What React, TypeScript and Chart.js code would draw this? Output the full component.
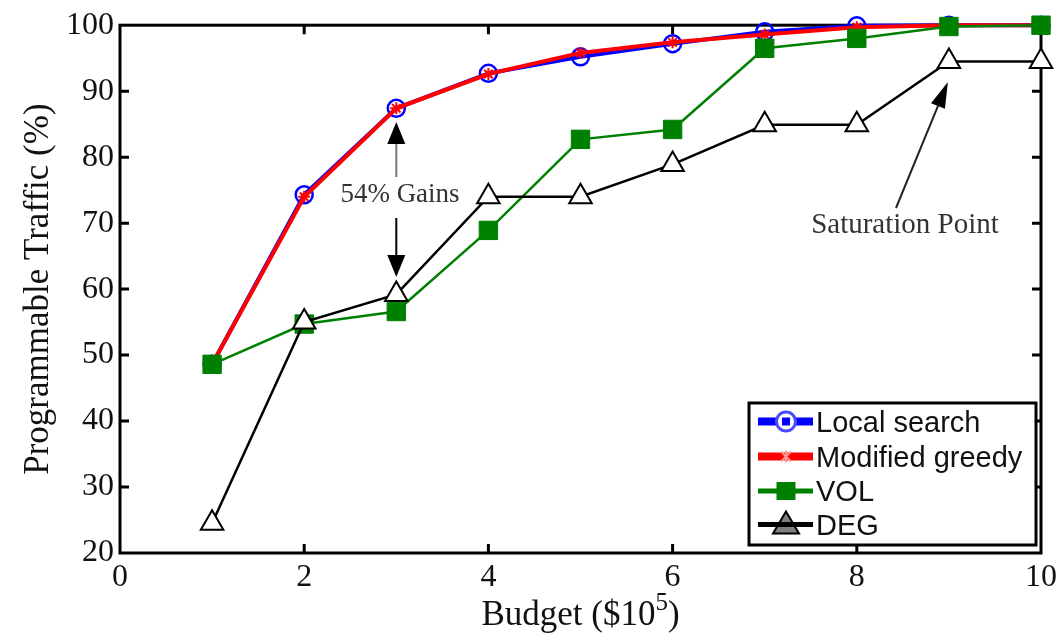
import React, { useEffect, useRef } from 'react';
import { Chart, registerables } from 'chart.js';

Chart.register(...registerables);

// ---- data ----
const budget = [1, 2, 3, 4, 5, 6, 7, 8, 9, 10];
const localSearch = [48.6, 74.3, 87.4, 92.7, 95.2, 97.2, 99.0, 99.9, 100, 100];
const modifiedGreedy = [48.6, 74.0, 87.4, 92.6, 95.8, 97.4, 98.6, 99.7, 100, 100];
const vol = [48.6, 54.7, 56.6, 68.9, 82.7, 84.2, 96.5, 98.0, 99.8, 100];
const deg = [24.5, 55.0, 59.2, 74.0, 74.0, 78.9, 84.9, 84.9, 94.5, 94.5];
const seriesNames = ['Local search', 'Modified greedy', 'VOL', 'DEG'];
const xTicks = [0, 2, 4, 6, 8, 10];
const yTicks = [20, 30, 40, 50, 60, 70, 80, 90, 100];
const xTitleMain = 'Budget ($10';
const xTitleSup = '5';
const xTitleEnd = ')';
const yTitle = 'Programmable Traffic (%)';
const gainsLabel = '54% Gains';
const saturationLabel = 'Saturation Point';

const SERIF = '"Liberation Serif", "Times New Roman", serif';
const SANS = '"Liberation Sans", Arial, sans-serif';

const BLUE = '#0000ff';
const RED = '#ff0000';
const GREEN = '#008000';
const BLACK = '#000000';

const pts = (ys: number[]) => budget.map((x, i) => ({ x, y: ys[i] }));

function drawArrow(ctx: CanvasRenderingContext2D, x1: number, y1: number, x2: number, y2: number, headLen: number, headW: number, shaftColor: string, headColor: string) {
  const ang = Math.atan2(y2 - y1, x2 - x1);
  const bx = x2 - Math.cos(ang) * headLen;
  const by = y2 - Math.sin(ang) * headLen;
  ctx.save();
  ctx.strokeStyle = shaftColor;
  ctx.lineWidth = 2;
  ctx.beginPath();
  ctx.moveTo(x1, y1);
  ctx.lineTo(bx, by);
  ctx.stroke();
  ctx.fillStyle = headColor;
  ctx.beginPath();
  ctx.moveTo(x2, y2);
  ctx.lineTo(bx + Math.sin(ang) * headW / 2, by - Math.cos(ang) * headW / 2);
  ctx.lineTo(bx - Math.sin(ang) * headW / 2, by + Math.cos(ang) * headW / 2);
  ctx.closePath();
  ctx.fill();
  ctx.restore();
}

const framePlugin = {
  id: 'framePlugin',
  beforeDatasetsDraw(chart: any) {
    const { ctx, chartArea: a, scales } = chart;
    const xs = scales.x;
    const ys = scales.y;
    ctx.save();
    ctx.strokeStyle = '#000';
    ctx.lineWidth = 3;
    ctx.strokeRect(a.left, a.top, a.right - a.left, a.bottom - a.top);
    ctx.beginPath();
    xTicks.forEach((v) => {
      if (v <= xTicks[0] || v >= xTicks[xTicks.length - 1]) return;
      const px = xs.getPixelForValue(v);
      ctx.moveTo(px, a.bottom);
      ctx.lineTo(px, a.bottom - 9);
      ctx.moveTo(px, a.top);
      ctx.lineTo(px, a.top + 9);
    });
    yTicks.forEach((v) => {
      if (v <= yTicks[0] || v >= yTicks[yTicks.length - 1]) return;
      const py = ys.getPixelForValue(v);
      ctx.moveTo(a.left, py);
      ctx.lineTo(a.left + 9, py);
      ctx.moveTo(a.right, py);
      ctx.lineTo(a.right - 9, py);
    });
    ctx.stroke();
    ctx.restore();
  },
  afterDraw(chart: any) {
    const { ctx, chartArea: a, scales } = chart;
    const xs = scales.x;
    const ys = scales.y;
    ctx.save();
    // y title
    ctx.fillStyle = '#111';
    ctx.font = `35px ${SERIF}`;
    ctx.textAlign = 'center';
    ctx.textBaseline = 'alphabetic';
    ctx.translate(48, (a.top + a.bottom) / 2);
    ctx.rotate(-Math.PI / 2);
    ctx.fillText(yTitle, 0, 0);
    ctx.restore();

    // x title with superscript
    ctx.save();
    ctx.fillStyle = '#111';
    ctx.textAlign = 'left';
    ctx.textBaseline = 'alphabetic';
    ctx.font = `35px ${SERIF}`;
    const w1 = ctx.measureText(xTitleMain).width;
    const w3 = ctx.measureText(xTitleEnd).width;
    ctx.font = `25px ${SERIF}`;
    const w2 = ctx.measureText(xTitleSup).width;
    const total = w1 + w2 + w3;
    let sx = (a.left + a.right) / 2 - total / 2;
    const base = 625;
    ctx.font = `35px ${SERIF}`;
    ctx.fillText(xTitleMain, sx, base);
    sx += w1;
    ctx.font = `25px ${SERIF}`;
    ctx.fillText(xTitleSup, sx, base - 15);
    sx += w2;
    ctx.font = `35px ${SERIF}`;
    ctx.fillText(xTitleEnd, sx, base);
    ctx.restore();

    // annotations
    const x3 = xs.getPixelForValue(3);
    drawArrow(ctx, x3, 177, x3, 122, 22, 18, '#777', '#000');
    drawArrow(ctx, x3, 218, x3, 277, 22, 18, '#000', '#000');
    const x9 = xs.getPixelForValue(9);
    drawArrow(ctx, 896, 208, x9 - 1, ys.getPixelForValue(91.4), 26, 15, '#222', '#000');
    ctx.save();
    ctx.fillStyle = '#333';
    ctx.textAlign = 'center';
    ctx.textBaseline = 'alphabetic';
    ctx.font = `27px ${SERIF}`;
    ctx.fillText(gainsLabel, 400, 202);
    ctx.font = `29px ${SERIF}`;
    ctx.fillText(saturationLabel, 905, 233);
    ctx.restore();

    // legend
    ctx.save();
    const bx = 749, by = 403, bw = 287, bh = 142;
    ctx.fillStyle = '#fff';
    ctx.fillRect(bx, by, bw, bh);
    ctx.strokeStyle = '#000';
    ctx.lineWidth = 3;
    ctx.strokeRect(bx, by, bw, bh);
    const rowY = [421.5, 456.5, 491, 524.5];
    const colors = [BLUE, RED, GREEN, BLACK];
    const lws = [8, 8, 5, 5];
    const lx1 = 758, lx2 = 813, mx = 786;
    seriesNames.forEach((name, i) => {
      const yy = rowY[i];
      ctx.strokeStyle = colors[i];
      ctx.lineWidth = lws[i];
      ctx.beginPath();
      ctx.moveTo(lx1, yy);
      ctx.lineTo(lx2, yy);
      ctx.stroke();
      if (i === 0) {
        ctx.strokeStyle = '#4a4aff';
        ctx.fillStyle = '#fff';
        ctx.lineWidth = 3;
        ctx.beginPath();
        ctx.arc(mx, yy, 9.5, 0, Math.PI * 2);
        ctx.fill();
        ctx.stroke();
        ctx.strokeStyle = BLUE;
        ctx.lineWidth = 8;
        ctx.beginPath();
        ctx.moveTo(mx - 4, yy);
        ctx.lineTo(mx + 4, yy);
        ctx.stroke();
      } else if (i === 1) {
        ctx.strokeStyle = '#ff9a9a';
        ctx.lineWidth = 2;
        ctx.beginPath();
        ctx.moveTo(mx - 5, yy - 5); ctx.lineTo(mx + 5, yy + 5);
        ctx.moveTo(mx + 5, yy - 5); ctx.lineTo(mx - 5, yy + 5);
        ctx.moveTo(mx, yy - 6); ctx.lineTo(mx, yy + 6);
        ctx.stroke();
      } else if (i === 2) {
        ctx.fillStyle = GREEN;
        ctx.fillRect(mx - 9.5, yy - 9, 19, 18);
      } else {
        ctx.fillStyle = '#808080';
        ctx.strokeStyle = '#000';
        ctx.lineWidth = 2;
        ctx.beginPath();
        ctx.moveTo(mx, yy - 13);
        ctx.lineTo(mx + 13, yy + 9);
        ctx.lineTo(mx - 13, yy + 9);
        ctx.closePath();
        ctx.fill();
        ctx.stroke();
        ctx.strokeStyle = '#000';
        ctx.lineWidth = 5;
        ctx.beginPath();
        ctx.moveTo(lx1, yy);
        ctx.lineTo(lx2, yy);
        ctx.stroke();
      }
      ctx.fillStyle = '#111';
      ctx.font = `29px ${SANS}`;
      ctx.textAlign = 'left';
      ctx.textBaseline = 'alphabetic';
      ctx.fillText(name, 816, yy + 10);
    });
    ctx.restore();
  },
};

export default function App() {
  const ref = useRef<HTMLCanvasElement | null>(null);
  useEffect(() => {
    if (!ref.current) return;
    const chart = new Chart(ref.current, {
      type: 'line',
      data: {
        datasets: [
          {
            label: seriesNames[0],
            data: pts(localSearch),
            borderColor: BLUE,
            borderWidth: 4,
            pointStyle: 'circle',
            pointRadius: 8.5,
            pointBorderWidth: 2.5,
            pointBorderColor: BLUE,
            pointBackgroundColor: 'rgba(0,0,0,0)',
            order: 4,
            clip: false,
          },
          {
            label: seriesNames[1],
            data: pts(modifiedGreedy),
            borderColor: RED,
            borderWidth: 4,
            pointStyle: 'star',
            pointRadius: 6,
            pointBorderWidth: 2,
            pointBorderColor: RED,
            pointBackgroundColor: RED,
            order: 3,
            clip: false,
          },
          {
            label: seriesNames[2],
            data: pts(vol),
            borderColor: GREEN,
            borderWidth: 2.5,
            pointStyle: 'rect',
            pointRadius: 13,
            pointBorderWidth: 1,
            pointBorderColor: GREEN,
            pointBackgroundColor: GREEN,
            order: 2,
            clip: false,
          },
          {
            label: seriesNames[3],
            data: pts(deg),
            borderColor: BLACK,
            borderWidth: 2.5,
            pointStyle: 'triangle',
            pointRadius: 13,
            pointBorderWidth: 2,
            pointBorderColor: BLACK,
            pointBackgroundColor: '#ffffff',
            order: 1,
            clip: false,
          },
        ],
      },
      options: {
        animation: false,
        responsive: false,
        devicePixelRatio: 1,
        layout: { padding: { top: 23, right: 22, left: 0, bottom: 0 } },
        plugins: { legend: { display: false }, tooltip: { enabled: false }, title: { display: false } },
        elements: { line: { tension: 0 } },
        scales: {
          x: {
            type: 'linear',
            min: xTicks[0],
            max: xTicks[xTicks.length - 1],
            afterBuildTicks: (s: any) => { s.ticks = xTicks.map((v) => ({ value: v })); },
            afterFit: (s: any) => { s.height = 80; },
            grid: { display: false, drawTicks: false },
            border: { display: false },
            ticks: { color: '#111', font: { family: SERIF, size: 32 }, padding: 5, maxRotation: 0 },
          },
          y: {
            type: 'linear',
            min: yTicks[0],
            max: yTicks[yTicks.length - 1],
            afterBuildTicks: (s: any) => { s.ticks = yTicks.map((v) => ({ value: v })); },
            afterFit: (s: any) => { s.width = 120; },
            grid: { display: false, drawTicks: false },
            border: { display: false },
            ticks: { color: '#111', font: { family: SERIF, size: 32 }, padding: 6 },
          },
        },
      },
      plugins: [framePlugin],
    } as any);
    return () => chart.destroy();
  }, []);
  return (
    <div style={{ position: 'absolute', left: 0, top: 0, width: 1063, height: 633, background: '#fff' }}>
      <canvas ref={ref} width={1063} height={633} style={{ width: 1063, height: 633, display: 'block' }} />
    </div>
  );
}
